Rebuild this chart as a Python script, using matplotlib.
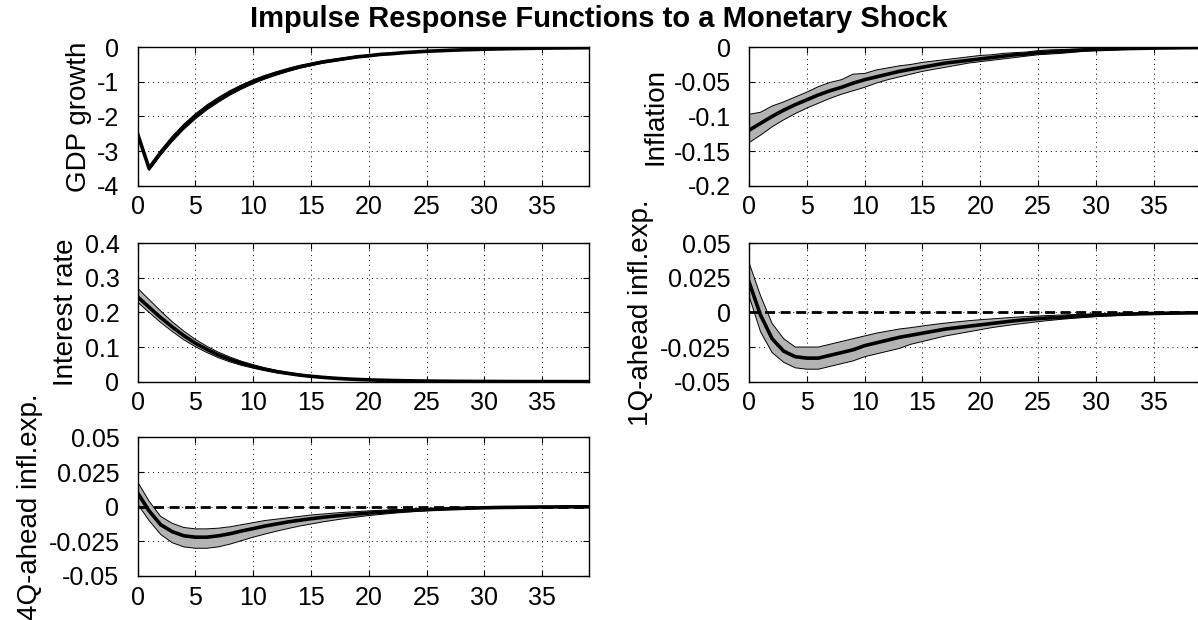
import matplotlib.pyplot as plt
import matplotlib

# 字体
matplotlib.rc("font", family="Liberation Sans", size=18)
matplotlib.rcParams["axes.unicode_minus"] = False

horizon = list(range(40))

gdp_mid = [-2.50, -3.50, -3.05, -2.65, -2.30, -2.00, -1.74, -1.52, -1.32, -1.15,
           -1.00, -0.87, -0.76, -0.66, -0.57, -0.50, -0.43, -0.38, -0.33, -0.28,
           -0.25, -0.21, -0.19, -0.16, -0.14, -0.12, -0.106, -0.092, -0.080, -0.070,
           -0.060, -0.053, -0.046, -0.040, -0.035, -0.030, -0.026, -0.023, -0.020, -0.017]
gdp_hi = [-2.46, -3.44, -2.98, -2.575, -2.225, -1.925, -1.668, -1.45, -1.254, -1.088,
          -0.942, -0.816, -0.71, -0.614, -0.528, -0.462, -0.395, -0.348, -0.301, -0.254,
          -0.227, -0.189, -0.171, -0.143, -0.125, -0.107, -0.094, -0.081, -0.070, -0.061,
          -0.052, -0.046, -0.040, -0.034, -0.030, -0.025, -0.022, -0.019, -0.017, -0.014]
gdp_lo = [-2.54, -3.56, -3.12, -2.725, -2.375, -2.075, -1.812, -1.59, -1.386, -1.212,
          -1.058, -0.924, -0.81, -0.706, -0.612, -0.538, -0.465, -0.412, -0.359, -0.306,
          -0.273, -0.231, -0.209, -0.177, -0.155, -0.133, -0.118, -0.103, -0.090, -0.079,
          -0.068, -0.060, -0.052, -0.046, -0.040, -0.035, -0.030, -0.027, -0.023, -0.020]

infl_mid = [-0.120, -0.110, -0.100, -0.091, -0.083, -0.076, -0.069, -0.063, -0.058, -0.052,
            -0.047, -0.043, -0.039, -0.035, -0.032, -0.029, -0.026, -0.023, -0.021, -0.019,
            -0.017, -0.015, -0.013, -0.011, -0.010, -0.008, -0.007, -0.006, -0.005, -0.004,
            -0.0035, -0.003, -0.0025, -0.002, -0.0017, -0.0014, -0.0012, -0.001, -0.0008, -0.0007]
infl_hi = [-0.097, -0.094, -0.085, -0.079, -0.072, -0.065, -0.057, -0.051, -0.047, -0.039,
           -0.038, -0.033, -0.030, -0.027, -0.025, -0.022, -0.020, -0.018, -0.016, -0.014,
           -0.012, -0.011, -0.009, -0.008, -0.007, -0.005, -0.004, -0.0035, -0.003, -0.0025,
           -0.002, -0.0018, -0.0015, -0.0012, -0.001, -0.0008, -0.0007, -0.0006, -0.0005, -0.0004]
infl_lo = [-0.138, -0.127, -0.115, -0.105, -0.096, -0.088, -0.081, -0.074, -0.068, -0.063,
           -0.058, -0.052, -0.047, -0.043, -0.039, -0.035, -0.032, -0.029, -0.026, -0.023,
           -0.021, -0.019, -0.017, -0.015, -0.013, -0.011, -0.010, -0.009, -0.0075, -0.006,
           -0.005, -0.0043, -0.0036, -0.003, -0.0025, -0.0021, -0.0018, -0.0015, -0.0012, -0.001]

rate_mid = [0.245, 0.215, 0.185, 0.158, 0.133, 0.111, 0.093, 0.077, 0.064, 0.053,
            0.044, 0.036, 0.029, 0.024, 0.019, 0.0155, 0.0125, 0.010, 0.008, 0.0065,
            0.0052, 0.0042, 0.0034, 0.0027, 0.0022, 0.0018, 0.0014, 0.0011, 0.0009, 0.0007,
            0.0006, 0.0005, 0.0004, 0.0003, 0.0003, 0.0002, 0.0002, 0.0002, 0.0001, 0.0001]
rate_hi = [0.270, 0.237, 0.204, 0.173, 0.146, 0.122, 0.102, 0.085, 0.071, 0.059,
           0.049, 0.040, 0.033, 0.027, 0.022, 0.018, 0.0145, 0.0118, 0.0095, 0.0077,
           0.0062, 0.005, 0.004, 0.0032, 0.0026, 0.0021, 0.0017, 0.0013, 0.0011, 0.0009,
           0.0007, 0.0006, 0.0005, 0.0004, 0.0003, 0.0003, 0.0002, 0.0002, 0.0002, 0.0001]
rate_lo = [0.230, 0.200, 0.171, 0.145, 0.121, 0.101, 0.084, 0.069, 0.057, 0.047,
           0.039, 0.032, 0.026, 0.021, 0.017, 0.0135, 0.0108, 0.0086, 0.0068, 0.0054,
           0.0043, 0.0035, 0.0028, 0.0022, 0.0018, 0.0014, 0.0011, 0.0009, 0.0007, 0.0006,
           0.0005, 0.0004, 0.0003, 0.0002, 0.0002, 0.0002, 0.0001, 0.0001, 0.0001, 0.0]

exp1_mid = [0.022, -0.002, -0.019, -0.028, -0.032, -0.033, -0.033, -0.031, -0.029, -0.027,
            -0.024, -0.022, -0.020, -0.018, -0.0165, -0.015, -0.0135, -0.012, -0.011, -0.010,
            -0.009, -0.008, -0.007, -0.006, -0.0052, -0.0045, -0.004, -0.0035, -0.003, -0.0025,
            -0.002, -0.0017, -0.0014, -0.0012, -0.001, -0.0008, -0.0006, -0.0005, -0.0004, -0.0003]
exp1_hi = [0.036, 0.012, -0.008, -0.019, -0.025, -0.025, -0.025, -0.023, -0.021, -0.019,
           -0.017, -0.015, -0.0135, -0.012, -0.011, -0.0098, -0.0087, -0.0077, -0.0068, -0.006,
           -0.0053, -0.0047, -0.0041, -0.0035, -0.003, -0.0026, -0.0022, -0.0019, -0.0016, -0.0013,
           -0.0011, -0.0009, -0.0007, -0.0006, -0.0005, -0.0004, -0.0003, -0.0002, -0.0002, -0.0001]
exp1_lo = [0.012, -0.014, -0.029, -0.036, -0.040, -0.041, -0.041, -0.039, -0.037, -0.035,
           -0.032, -0.030, -0.028, -0.026, -0.023, -0.021, -0.019, -0.017, -0.0155, -0.014,
           -0.0125, -0.011, -0.0098, -0.0087, -0.0077, -0.0067, -0.0058, -0.005, -0.0043, -0.0037,
           -0.0031, -0.0026, -0.0022, -0.0018, -0.0015, -0.0012, -0.001, -0.0008, -0.0006, -0.0005]

exp4_mid = [0.010, -0.003, -0.013, -0.018, -0.021, -0.022, -0.022, -0.021, -0.0195, -0.0175,
            -0.0158, -0.014, -0.0125, -0.011, -0.0098, -0.0087, -0.0077, -0.0068, -0.006, -0.0053,
            -0.0046, -0.004, -0.0034, -0.0029, -0.0025, -0.0021, -0.0018, -0.0015, -0.0012, -0.001,
            -0.0008, -0.0006, -0.0005, -0.0004, -0.0003, -0.0002, -0.0002, -0.0001, -0.0001, -0.0001]
exp4_hi = [0.018, 0.004, -0.007, -0.012, -0.015, -0.016, -0.016, -0.0155, -0.0145, -0.013,
           -0.0115, -0.010, -0.009, -0.008, -0.007, -0.006, -0.0053, -0.0046, -0.004, -0.0035,
           -0.003, -0.0026, -0.0022, -0.0019, -0.0016, -0.0013, -0.0011, -0.0009, -0.0007, -0.0005,
           -0.0004, -0.0003, -0.0002, -0.0002, -0.0001, -0.0001, 0.0, 0.0, 0.0, 0.0]
exp4_lo = [0.002, -0.010, -0.020, -0.026, -0.029, -0.030, -0.030, -0.029, -0.027, -0.0245,
           -0.022, -0.0198, -0.0177, -0.0158, -0.014, -0.0125, -0.011, -0.0097, -0.0085, -0.0074,
           -0.0064, -0.0056, -0.0048, -0.0041, -0.0035, -0.003, -0.0025, -0.0021, -0.0017, -0.0014,
           -0.0012, -0.001, -0.0008, -0.0007, -0.0006, -0.0005, -0.0004, -0.0003, -0.0002, -0.0002]

panels = [
    ("GDP growth", gdp_mid, gdp_lo, gdp_hi, [-4, -3, -2, -1, 0], False),
    ("Inflation", infl_mid, infl_lo, infl_hi, [-0.2, -0.15, -0.1, -0.05, 0], False),
    ("Interest rate", rate_mid, rate_lo, rate_hi, [0, 0.1, 0.2, 0.3, 0.4], False),
    ("1Q-ahead infl.exp.", exp1_mid, exp1_lo, exp1_hi, [-0.05, -0.025, 0, 0.025, 0.05], True),
    ("4Q-ahead infl.exp.", exp4_mid, exp4_lo, exp4_hi, [-0.05, -0.025, 0, 0.025, 0.05], True),
]

# 轴的位置 (figure fraction)
lefts = [0.1148, 0.6252]
bottoms = [0.7005, 0.3844, 0.071]
w, h = 0.3765, 0.2235

fig = plt.figure(figsize=(11.98, 6.2), dpi=100)

for i, (name, mid, lo, hi, yt, zero) in enumerate(panels):
    ax = fig.add_axes([lefts[i % 2], bottoms[i // 2], w, h])
    ax.fill_between(horizon, lo, hi, facecolor="#b3b3b3", edgecolor="none", zorder=2)
    ax.plot(horizon, lo, color="black", lw=0.7, zorder=3)
    ax.plot(horizon, hi, color="black", lw=0.7, zorder=3)
    if zero:
        ax.plot(horizon, [0] * len(horizon), color="black", lw=2, dashes=(3.6, 2), zorder=3)
    ax.plot(horizon, mid, color="black", lw=2.6, zorder=4)
    ax.set_xlim(0, 39)
    ax.set_ylim(yt[0], yt[-1])
    ax.set_xticks(range(0, 40, 5))
    ax.set_yticks(yt)
    ax.set_yticklabels(["{:g}".format(v) for v in yt])
    ax.grid(True, color="black", linestyle=(0, (1, 4)), lw=0.7)
    ax.tick_params(direction="in", top=True, right=True, length=4, width=0.8)
    ax.tick_params(axis="x", pad=7)
    ax.tick_params(axis="y", pad=13)
    for s in ax.spines.values():
        s.set_linewidth(1)
    ax.set_ylabel(name, fontsize=20, labelpad=4)

fig.text(0.5, 0.97, "Impulse Response Functions to a Monetary Shock",
         ha="center", va="center", fontsize=21, fontweight="bold")

plt.savefig("out.png", dpi=100)
